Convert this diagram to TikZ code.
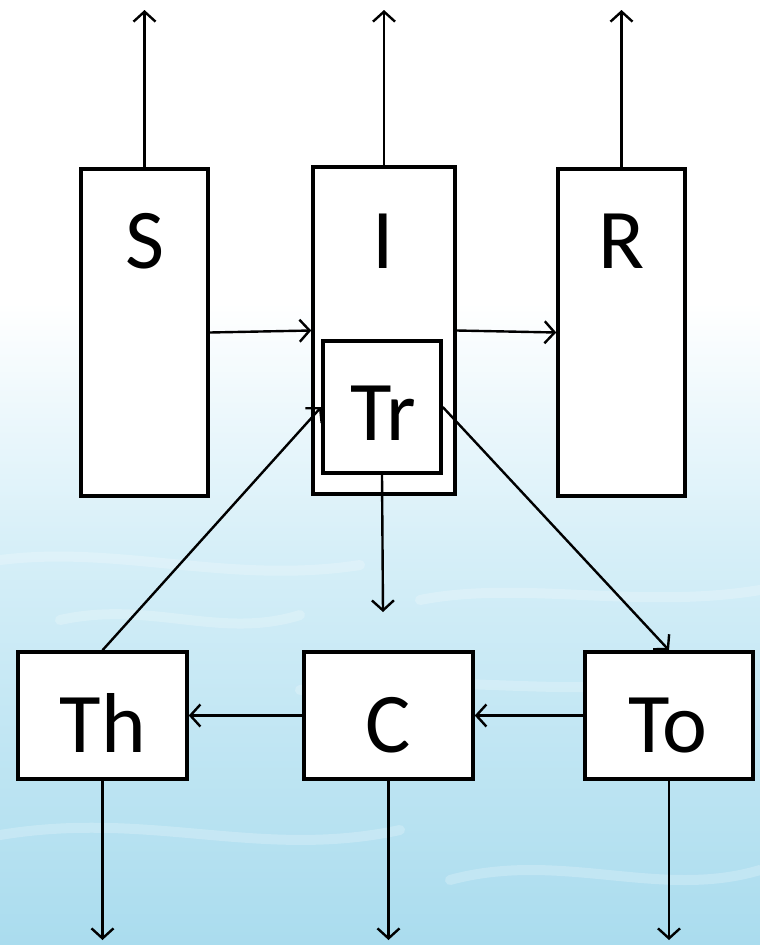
\documentclass[tikz,border=0pt]{standalone}
\usepackage{fontspec}
\setmainfont{Carlito}
\usetikzlibrary{arrows.meta,positioning}

\definecolor{waterdeep}{RGB}{170,220,238}
\definecolor{waterlight}{RGB}{214,239,248}
% bottom to top: blue water fading to white sky
\pgfdeclareverticalshading{waterfade}{100bp}{color(0bp)=(waterdeep); color(25bp)=(waterdeep); color(46bp)=(waterlight); color(59bp)=(white); color(100bp)=(white)}

\tikzset{
  box/.style={draw, line width=3.5pt, fill=white, inner sep=0pt},
  letter/.style={font=\fontsize{85}{85}\selectfont, anchor=base, inner sep=0pt},
  flow/.style={line width=2.4pt, -{Straight Barb[length=10pt,width=22pt,line width=2.4pt]}},
  wave/.style={white, opacity=0.22, line width=10pt, line cap=round},
}

\begin{document}
\begin{tikzpicture}[x=1pt,y=-1pt]
\useasboundingbox (0,0) rectangle (760,945);
\shade[shading=waterfade] (0,0) rectangle (760,945);
% a few soft streaks on the water
\draw[wave] (0,560) .. controls (120,545) and (230,585) .. (360,565);
\draw[wave] (420,600) .. controls (520,580) and (640,610) .. (760,590);
\draw[wave] (0,835) .. controls (150,810) and (260,860) .. (400,830);
\draw[wave] (300,690) .. controls (420,670) and (560,700) .. (700,680);
\draw[wave] (450,880) .. controls (560,850) and (660,900) .. (760,870);
\draw[wave] (60,620) .. controls (150,600) and (220,640) .. (300,615);

% compartments
\node[box, minimum width=127pt, minimum height=327pt] (S) at (144.5,332.5) {};
\node[box, minimum width=142pt, minimum height=327pt] (I) at (384,330.5) {};
\node[box, minimum width=127pt, minimum height=327pt] (R) at (621.5,332.5) {};
\node[box, minimum width=118pt, minimum height=132pt] (Tr) at (382,407) {};
\node[box, minimum width=169pt, minimum height=127pt] (Th) at (102.5,715.5) {};
\node[box, minimum width=169pt, minimum height=127pt] (C) at (388.5,715.5) {};
\node[box, minimum width=168pt, minimum height=127pt] (To) at (669,715.5) {};

\node[letter] (S label) at (145,268) {S};
\node[letter] (I label) at (383,268) {I};
\node[letter] (R label) at (622,268) {R};
\node[letter] (Tr label) at (383,440) {Tr};
\node[letter] (Th label) at (103,752) {Th};
\node[letter] (C label) at (388,752) {C};
\node[letter] (To label) at (668,752) {To};

% flows between compartments
\draw[flow] (S.east) -- (I.west);
\draw[flow] (I.east) -- (R.west);
\draw[flow] (Th.north) -- (Tr.west);
\draw[flow] (Tr.east) -- (To.north);
\draw[flow] (C.west) -- (Th.east);
\draw[flow] (To.west) -- (C.east);
\coordinate (Tr down) at (383,612);
\draw[flow] (Tr.south) -- (Tr down);

% outflows
\foreach \n in {S,I,R} {
  \coordinate (\n top) at (\n.north |- 0,10);
  \draw[flow] (\n.north) -- (\n top);
}
\foreach \n in {Th,C,To} {
  \coordinate (\n bottom) at (\n.south |- 0,940);
  \draw[flow] (\n.south) -- (\n bottom);
}
\end{tikzpicture}
\end{document}
